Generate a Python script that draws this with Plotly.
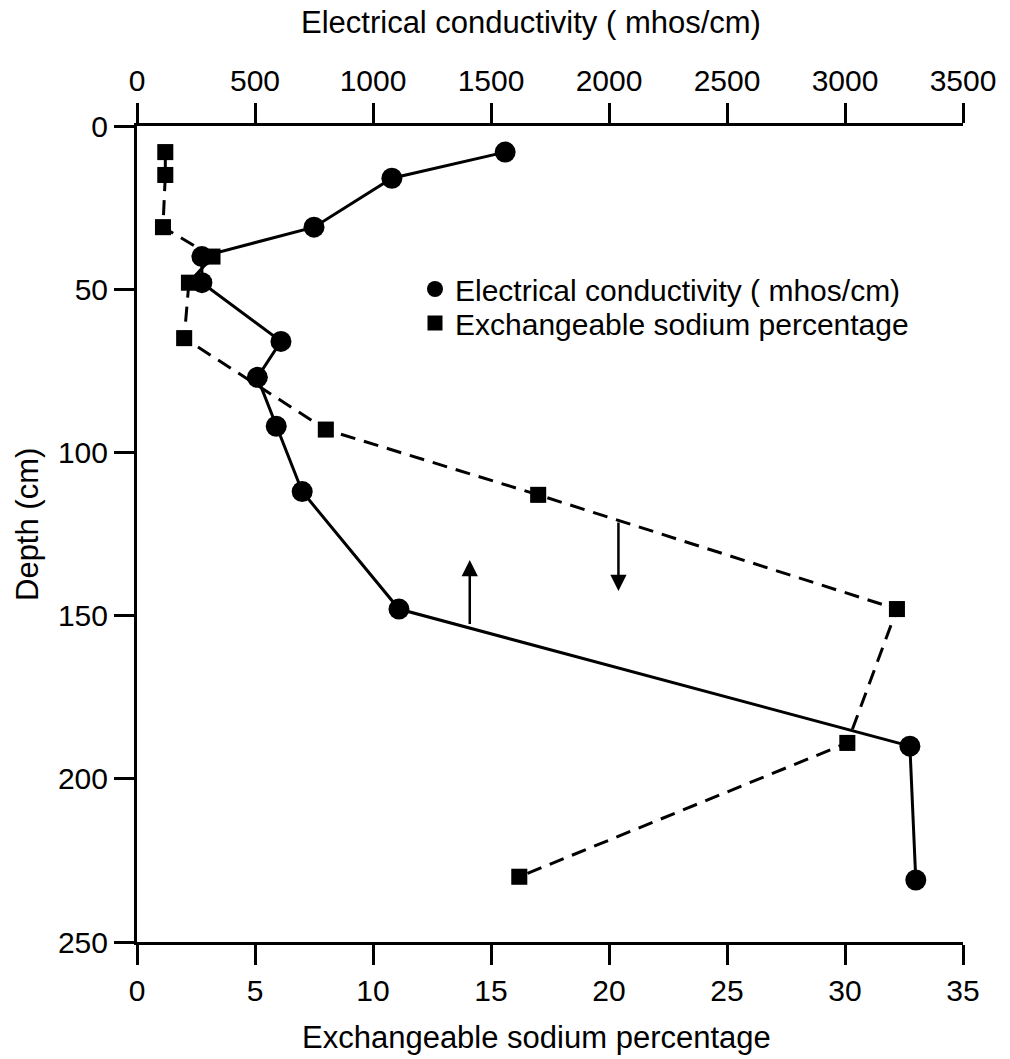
import plotly.graph_objects as go

# Electrical conductivity (top axis, mhos/cm) vs depth (cm)
ec_depth = [8, 16, 31, 40, 48, 66, 77, 92, 112, 148, 190, 231]
ec_values = [1560, 1080, 750, 275, 275, 610, 510, 590, 700, 1110, 3275, 3300]

# Exchangeable sodium percentage (bottom axis) vs depth (cm)
esp_depth = [8, 15, 31, 40, 48, 65, 93, 113, 148, 189, 230]
esp_values = [1.2, 1.2, 1.1, 3.2, 2.2, 2.0, 8.0, 17.0, 32.2, 30.1, 16.2]

# Arrows (ESP x-position, tail depth, head depth)
arrow_x = [14.1, 20.4]
arrow_tail = [153, 121]
arrow_head = [133, 142.5]

FONT = "Liberation Sans, Arial, Helvetica, sans-serif"
FS_TICK = 30
FS_TITLE = 31
FS_LEGEND = 30

fig = go.Figure()

fig.add_trace(go.Scatter(x=ec_values, y=ec_depth, xaxis="x2", yaxis="y",
                         mode="lines+markers", showlegend=False,
                         line=dict(color="black", width=3),
                         marker=dict(symbol="circle", size=21, color="black")))
fig.add_trace(go.Scatter(x=esp_values, y=esp_depth, xaxis="x", yaxis="y",
                         mode="lines+markers", showlegend=False,
                         line=dict(color="black", width=3, dash="15px,9px"),
                         marker=dict(symbol="square", size=16, color="black")))
# legend-only marker entries (each in its own legend box)
fig.add_trace(go.Scatter(x=ec_values, y=ec_depth, xaxis="x2", yaxis="y",
                         mode="markers", name="Electrical conductivity ( mhos/cm)",
                         legend="legend",
                         marker=dict(symbol="circle", size=18, color="black")))
fig.add_trace(go.Scatter(x=esp_values, y=esp_depth, xaxis="x", yaxis="y",
                         mode="markers", name="Exchangeable sodium percentage",
                         legend="legend2",
                         marker=dict(symbol="square", size=15, color="black")))

annotations = []
for xa, t, h in zip(arrow_x, arrow_tail, arrow_head):
    annotations.append(dict(x=xa, y=h, ax=xa, ay=t, xref="x", yref="y",
                            axref="x", ayref="y", text="", showarrow=True,
                            arrowhead=2, arrowsize=1.3, arrowwidth=2.5,
                            arrowcolor="black"))

def px_x(px):
    return (px - 137) / 826

def px_y(py):
    return 1 - (py - 126) / 816

annotations += [
    dict(text="Electrical conductivity ( mhos/cm)", x=px_x(531), y=px_y(22),
         xref="paper", yref="paper", showarrow=False, xanchor="center", yanchor="middle",
         font=dict(size=FS_TITLE, color="black", family=FONT)),
    dict(text="Exchangeable sodium percentage", x=px_x(536), y=px_y(1037),
         xref="paper", yref="paper", showarrow=False, xanchor="center", yanchor="middle",
         font=dict(size=FS_TITLE, color="black", family=FONT)),
    dict(text="Depth (cm)", x=px_x(27), y=px_y(525), textangle=-90,
         xref="paper", yref="paper", showarrow=False, xanchor="center", yanchor="middle",
         font=dict(size=FS_TITLE, color="black", family=FONT)),
]

axis_common = dict(showgrid=False, zeroline=False, showline=True, linecolor="black",
                   linewidth=3, ticks="outside", ticklen=20, tickwidth=3,
                   tickcolor="black", tickfont=dict(size=FS_TICK, color="black", family=FONT))

legend_common = dict(xanchor="left", yanchor="middle", bgcolor="rgba(0,0,0,0)",
                     font=dict(size=FS_LEGEND, color="black", family=FONT),
                     itemsizing="trace", borderwidth=0)

fig.update_layout(
    width=1010, height=1059,
    margin=dict(l=137, r=47, t=126, b=117),
    paper_bgcolor="white", plot_bgcolor="white",
    font=dict(family=FONT, size=FS_TICK, color="black"),
    xaxis=dict(range=[0, 35], tickvals=[0, 5, 10, 15, 20, 25, 30, 35],
               anchor="y", side="bottom", **axis_common),
    xaxis2=dict(range=[0, 3500], tickvals=[0, 500, 1000, 1500, 2000, 2500, 3000, 3500],
                overlaying="x", anchor="y", side="top", **axis_common),
    yaxis=dict(range=[250, 0], tickvals=[0, 50, 100, 150, 200, 250],
               anchor="x", **axis_common),
    legend=dict(x=px_x(415), y=px_y(289), **legend_common),
    legend2=dict(x=px_x(415), y=px_y(323), **legend_common),
    annotations=annotations,
    showlegend=True,
)

fig.write_html("out.html")
